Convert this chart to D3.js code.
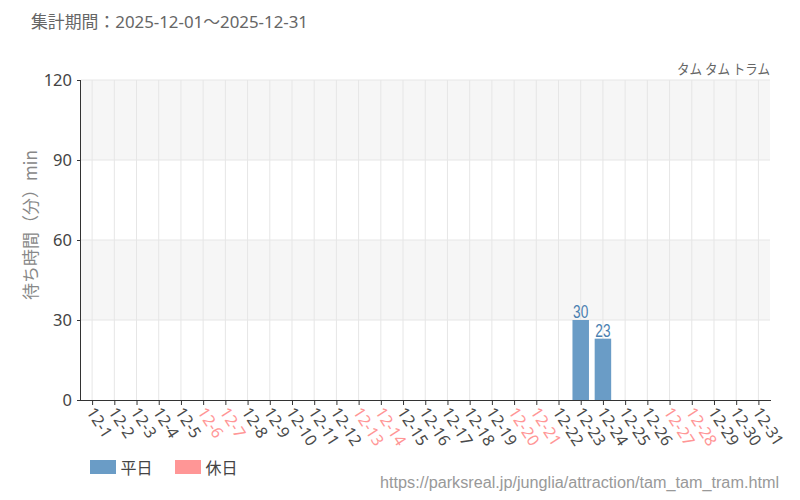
<!DOCTYPE html>
<html><head><meta charset="utf-8">
<script src="https://cdn.jsdelivr.net/npm/d3@7"></script>
<style>body{margin:0;background:#fff;}svg{display:block;font-family:"Noto Sans CJK JP","DejaVu Sans",sans-serif;}</style>
</head><body>
<svg id="c" width="800" height="500"></svg>
<script>
const days = ["12-1","12-2","12-3","12-4","12-5","12-6","12-7","12-8","12-9","12-10","12-11","12-12","12-13","12-14","12-15","12-16","12-17","12-18","12-19","12-20","12-21","12-22","12-23","12-24","12-25","12-26","12-27","12-28","12-29","12-30","12-31"];
const holidays = ["12-6","12-7","12-13","12-14","12-20","12-21","12-27","12-28"];
const weekdayWait = [null,null,null,null,null,null,null,null,null,null,null,null,null,null,null,null,null,null,null,null,null,null,30,23,null,null,null,null,null,null,null];
const holidayWait = [null,null,null,null,null,null,null,null,null,null,null,null,null,null,null,null,null,null,null,null,null,null,null,null,null,null,null,null,null,null,null];
const yTicks = [0,30,60,90,120];
const titleText = "集計期間：2025-12-01～2025-12-31";
const attraction = "タム タム トラム";
const yLabel = "待ち時間（分）min";
const legendNames = ["平日","休日"];
const url = "https://parksreal.jp/junglia/attraction/tam_tam_tram.html";

const colBlue = "#6a9cc6", colPink = "#ff9696";
const svg = d3.select("#c");
const L = 81, R = 769.5, T = 80, B = 400;
const xc = d3.scalePoint().domain(days).range([L, R]).padding(0.5);
const y = d3.scaleLinear().domain([0,120]).range([B, T]);

// alternating bands
for (let i = 0; i < yTicks.length - 1; i++) {
  if (i % 2 === 1) {
    svg.append("rect").attr("x", L).attr("y", y(yTicks[i+1])).attr("width", 770 - L)
      .attr("height", y(yTicks[i]) - y(yTicks[i+1])).attr("fill", "#f6f6f6");
  }
}
// grid
svg.append("g").selectAll("line").data(yTicks.slice(1)).join("line")
  .attr("x1", L).attr("x2", 770).attr("y1", d => y(d)).attr("y2", d => y(d))
  .attr("stroke", "#e6e6e6").attr("stroke-width", 1);
svg.append("g").selectAll("line").data(days).join("line")
  .attr("x1", d => xc(d)).attr("x2", d => xc(d)).attr("y1", T).attr("y2", B)
  .attr("stroke", "#e6e6e6").attr("stroke-width", 1);

// bars
const bw = 16.5;
svg.append("g").selectAll("rect").data(days.map((d,i)=>({d, v: weekdayWait[i]})).filter(e=>e.v!=null)).join("rect")
  .attr("x", e => xc(e.d) - bw/2).attr("width", bw).attr("y", e => y(e.v)).attr("height", e => B - y(e.v))
  .attr("fill", colBlue);
svg.append("g").selectAll("rect").data(days.map((d,i)=>({d, v: holidayWait[i]})).filter(e=>e.v!=null)).join("rect")
  .attr("x", e => xc(e.d) - bw/2).attr("width", bw).attr("y", e => y(e.v)).attr("height", e => B - y(e.v))
  .attr("fill", colPink);
svg.append("g").selectAll("text").data(days.map((d,i)=>({d, v: weekdayWait[i]})).filter(e=>e.v!=null)).join("text")
  .attr("transform", e => `translate(${xc(e.d)},${y(e.v) - 2}) scale(0.72,1)`)
  .attr("text-anchor", "middle").attr("font-size", 19).attr("fill", "#4a7fb0")
  .attr("font-family", "'Liberation Sans Narrow','Liberation Sans',sans-serif")
  .text(e => e.v);

// y axis
const ya = svg.append("g").attr("transform", `translate(${L},0)`)
  .call(d3.axisLeft(y).tickValues(yTicks).tickSize(4).tickPadding(5));
ya.select(".domain").attr("stroke", "#333").attr("d", `M-0.5,${T}V${B}`);
ya.selectAll(".tick line").attr("stroke", "#333");
ya.selectAll(".tick text").attr("font-size", 16.5).attr("fill", "#444").attr("font-family", "'Noto Sans',sans-serif");

// x axis
const xa = svg.append("g").attr("transform", `translate(0,${B})`)
  .call(d3.axisBottom(xc).tickSize(5).tickPadding(0));
xa.select(".domain").attr("stroke", "#333").attr("d", `M${L},0.5H771`);
xa.selectAll(".tick line").attr("stroke", "#333");
xa.selectAll(".tick text")
  .attr("font-size", 16).attr("font-family", "'Noto Sans',sans-serif")
  .attr("fill", d => holidays.includes(d) ? colPink : "#4a4a4a")
  .attr("text-anchor", "start").attr("y", 0).attr("x", 0).attr("dy", "0.35em")
  .attr("transform", "translate(-2,9) rotate(57)");

// titles
svg.append("text").attr("x", 31).attr("y", 28).attr("font-size", 16.5).attr("fill", "#666")
  .attr("font-family", "'Noto Sans','Noto Sans CJK JP',sans-serif").attr("textLength", 277).attr("lengthAdjust", "spacingAndGlyphs").text(titleText);
svg.append("text").attr("x", 770).attr("y", 74).attr("text-anchor", "end").attr("font-size", 14).attr("fill", "#666")
  .attr("font-family", "'Noto Sans CJK JP',sans-serif").attr("textLength", 93).attr("lengthAdjust", "spacingAndGlyphs").text(attraction);
svg.append("text").attr("transform", `translate(37,225) rotate(-90)`).attr("text-anchor", "middle")
  .attr("font-size", 17).attr("fill", "#888").attr("font-family", "'Noto Sans CJK JP',sans-serif").text(yLabel);

// legend
const lg = svg.append("g");
[colBlue, colPink].forEach((c, i) => {
  const lx = 90 + i * 85;
  lg.append("rect").attr("x", lx).attr("y", 460).attr("width", 26).attr("height", 14).attr("fill", c);
  lg.append("text").attr("x", lx + 30.5).attr("y", 473.5).attr("font-size", 16).attr("fill", "#444")
    .attr("font-family", "'Noto Sans CJK JP',sans-serif").text(legendNames[i]);
});
svg.append("text").attr("x", 779).attr("y", 488).attr("text-anchor", "end").attr("font-size", 16).attr("fill", "#999")
  .attr("font-family", "'Liberation Sans Narrow','Liberation Sans',sans-serif").attr("textLength", 399).attr("lengthAdjust", "spacingAndGlyphs").text(url);
</script>
</body></html>
